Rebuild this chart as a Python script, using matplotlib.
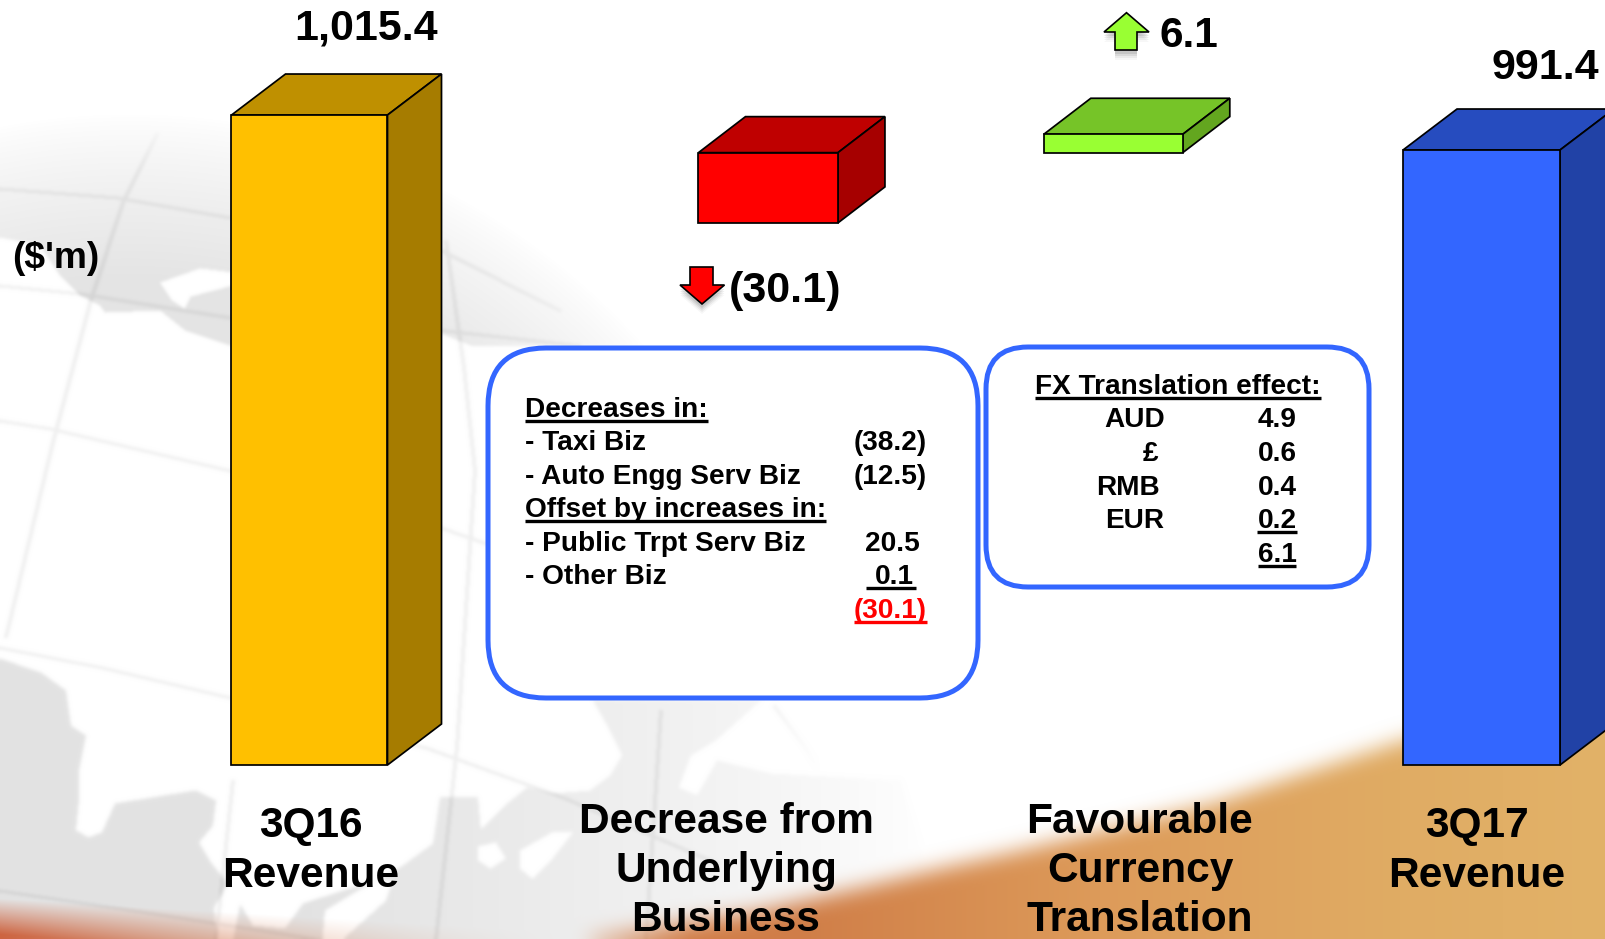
import numpy as np
import matplotlib
matplotlib.use("Agg")
import matplotlib.pyplot as plt
from matplotlib.patches import Polygon, FancyBboxPatch
from PIL import Image, ImageDraw, ImageFilter

plt.rcParams['font.family'] = ['Liberation Sans', 'DejaVu Sans']
W, H = 1606, 939

# ---------- data ----------
categories = ["3Q16\nRevenue", "Decrease from\nUnderlying\nBusiness",
              "Favourable\nCurrency\nTranslation", "3Q17\nRevenue"]
value_labels = ["1,015.4", "(30.1)", "6.1", "991.4"]
# block extents as drawn in the picture, in chart units on its broken axis
bar_bottoms = [569.6, 941.4, 989.6, 569.6]
bar_tops = [1015.4, 989.6, 1002.2, 991.4]
front_colors = ["#FFC000", "#FF0000", "#99FF33", "#3366FF"]
top_colors = ["#BF9000", "#BF0000", "#76C428", "#264CBF"]
side_colors = ["#A67C00", "#A60000", "#63A61F", "#2142A6"]

decrease_rows = ["- Taxi Biz", "- Auto Engg Serv Biz"]
decrease_vals = ["(38.2)", "(12.5)"]
increase_rows = ["- Public Trpt Serv Biz", "- Other Biz"]
increase_vals = ["20.5", "0.1"]
underlying_total = "(30.1)"
fx_rows = ["AUD", "£", "RMB", "EUR"]
fx_vals = ["4.9", "0.6", "0.4", "0.2"]
fx_total = "6.1"

# ---------- layout ----------
bar_centers = [309.5, 768.2, 1113.3, 1481.5]
bar_widths = [156, 139.5, 139, 157]
depth_x = [54, 47, 47, 54]
depth_y = [41, 36, 36, 41]
px_per_unit = 1.458
base_value, base_px = 569.6, 765


def mask(polys, holes=(), blur=2.0, lw=None):
    im = Image.new("L", (W, H), 0)
    d = ImageDraw.Draw(im)
    for p in polys:
        if lw:
            d.line(p, fill=255, width=lw)
        else:
            d.polygon(p, fill=255)
    for p in holes:
        d.polygon(p, fill=0)
    return np.asarray(im.filter(ImageFilter.GaussianBlur(blur)), float) / 255


def build_background():
    yy, xx = np.mgrid[0:H, 0:W].astype(float)
    r = np.hypot(xx - 130, yy - 800)
    R = 680.0
    inside = np.clip((R + 6 - r) / 165, 0, 1) ** 0.8

    north = mask(
        [[(-10, 60), (900, 60), (900, 345), (620, 345), (490, 345), (470, 345), (441, 333), (230, 345),
          (185, 330), (160, 310), (105, 312), (100, 305), (80, 295), (60, 275), (40, 245), (-10, 235)]],
        holes=[[(160, 282), (200, 268), (232, 272), (232, 285), (190, 296), (184, 308), (172, 300)],
               [(445, 335), (470, 345), (466, 378), (448, 372)]],
        blur=1.5)
    south = mask(
        [[(-10, 655), (40, 672), (65, 690), (70, 725), (85, 735), (78, 770), (78, 800), (75, 830), (88, 837),
          (102, 832), (115, 803), (195, 790), (215, 800), (212, 825), (198, 842), (210, 862), (227, 883),
          (213, 907), (217, 945), (-10, 945)],
         [(232, 945), (240, 905), (252, 925), (285, 928), (303, 903), (383, 877), (400, 867), (433, 843),
          (440, 797), (477, 797), (480, 830), (507, 803), (527, 787), (553, 793), (590, 790), (610, 775),
          (622, 755), (610, 730), (593, 700), (760, 700), (715, 740), (690, 755), (678, 787), (697, 795),
          (717, 760), (770, 773), (900, 780), (950, 945)]],
        holes=[[(478, 846), (495, 842), (505, 858), (490, 868), (478, 860)],
               [(520, 850), (552, 832), (572, 832), (550, 860), (532, 878), (520, 868)],
               [(325, 910), (375, 880), (392, 880), (385, 900), (335, 945), (322, 945)]],
        blur=1.8)
    fade = np.clip((930 - xx) / 620, 0, 1) ** 0.8
    dark = 0.105 * north * inside + 0.11 * south * fade

    grid = [
        [(157, 133), (123, 200), (90, 300), (50, 450), (5, 637)],
        [(445, 240), (463, 367), (474, 470), (456, 747), (435, 939)],
        [(232, 780), (215, 939)],
        [(660, 710), (645, 939)],
        [(773, 705), (803, 745), (890, 880)],
        [(0, 188), (117, 197), (230, 217), (441, 250), (560, 310)],
        [(0, 285), (80, 293), (230, 317), (445, 330), (580, 345)],
        [(0, 420), (50, 428), (230, 470), (440, 527), (486, 543)],
        [(0, 647), (102, 667), (230, 697), (425, 747), (563, 797), (717, 863)],
        [(0, 890), (154, 913), (320, 939)],
    ]
    lines = mask(grid, blur=1.6, lw=4)
    dark = dark + 0.06 * lines * np.clip((R + 10 - r) / 60, 0, 1)
    rgb = np.ones((H, W, 3)) * (1 - dark[..., None])

    swoosh = mask([[(500, 955), (620, 932), (753, 912), (870, 885), (940, 868), (1008, 853), (1213, 803),
                    (1403, 740), (1606, 690), (1606, 955)]], blur=10)
    stops_x = [0, 500, 800, 1100, 1400, 1606]
    stops = np.array([[205, 100, 65], [212, 125, 72], [208, 126, 72], [221, 155, 90], [224, 172, 100],
                      [226, 178, 104]], float) / 255
    col = np.stack([np.interp(xx, stops_x, stops[:, i]) for i in range(3)], axis=-1)
    a1 = (swoosh * np.clip((xx - 430) / 260, 0, 1))[..., None]
    left_top = 898 + xx * 0.06
    a2 = (np.clip((yy - left_top) / 36, 0, 1) * np.clip((560 - xx) / 560, 0, 1) ** 1.2)[..., None]
    rgb = rgb * (1 - a1) + col * a1
    rgb = rgb * (1 - a2) + col * a2
    return np.clip(rgb, 0, 1)


fig = plt.figure(figsize=(W / 100, H / 100), dpi=100)
pax = fig.add_axes([0, 0, 1, 1], zorder=0)
pax.imshow(build_background(), extent=(0, W, H, 0), aspect="auto", zorder=0, interpolation="bilinear")
pax.set_xlim(0, W)
pax.set_ylim(H, 0)
pax.axis("off")

ax = fig.add_axes([0, 0, 1, 1], zorder=1)
ax.set_xlim(0, W)
ax.set_ylim(base_value - (H - base_px) / px_per_unit, base_value + base_px / px_per_unit)
ax.axis("off")
ax.patch.set_alpha(0)

tax = fig.add_axes([0, 0, 1, 1], zorder=2)
tax.set_xlim(0, W)
tax.set_ylim(H, 0)
tax.axis("off")
tax.patch.set_alpha(0)

# ---------- blocks ----------
EDGE = 1.25
heights = np.array(bar_tops) - np.array(bar_bottoms)
ax.bar(bar_centers, heights, width=bar_widths, bottom=bar_bottoms, color=front_colors,
       edgecolor="black", linewidth=EDGE, zorder=3)
for i in range(4):
    x0 = bar_centers[i] - bar_widths[i] / 2
    x1 = bar_centers[i] + bar_widths[i] / 2
    dx, dy = depth_x[i], depth_y[i] / px_per_unit
    b, t = bar_bottoms[i], bar_tops[i]
    ax.add_patch(Polygon([(x0, t), (x1, t), (x1 + dx, t + dy), (x0 + dx, t + dy)], closed=True,
                         facecolor=top_colors[i], edgecolor="black", linewidth=EDGE, zorder=2))
    ax.add_patch(Polygon([(x1, b), (x1 + dx, b + dy), (x1 + dx, t + dy), (x1, t)], closed=True,
                         facecolor=side_colors[i], edgecolor="black", linewidth=EDGE, zorder=2))

# ---------- callout boxes ----------
def round_box(x0, y0, x1, y1, rad):
    tax.add_patch(FancyBboxPatch((x0 + rad, y0 + rad), x1 - x0 - 2 * rad, y1 - y0 - 2 * rad,
                                 boxstyle=f"round,pad={rad},rounding_size={rad}",
                                 facecolor="white", edgecolor="#3366FF", linewidth=3.6, zorder=2))

round_box(488, 348, 978, 698, 58)
round_box(986, 347, 1369, 587, 42)

# ---------- arrows ----------
def arrow(points, color):
    pts = np.array(points, float)
    for off, a in [(10, 0.03), (8, 0.05), (6, 0.07), (4, 0.09)]:
        tax.add_patch(Polygon(pts + [0, off], closed=True, facecolor="black", edgecolor="none",
                              alpha=a, zorder=3))
    tax.add_patch(Polygon(pts, closed=True, facecolor=color, edgecolor="black", linewidth=1.2, zorder=4))

arrow([(690, 267), (713, 267), (713, 285), (724.5, 285), (702, 304), (680, 285), (690, 285)], "#FF0000")
arrow([(1126.5, 12.7), (1149, 32), (1137, 32), (1137, 50), (1115, 50), (1115, 32), (1104, 32)], "#99FF33")

# ---------- text ----------
def txt(x, y, s, size, ha="left", color="black"):
    return tax.text(x, y, s, fontsize=size, fontweight="bold", ha=ha, va="baseline", color=color, zorder=6)

def utxt(x, y, s, size, ha="left", color="black", pad_left=0, pad_right=0):
    t = txt(x, y, s, size, ha, color)
    ext = t.get_window_extent(fig.canvas.get_renderer())
    tax.plot([ext.x0 - pad_left, ext.x1 + pad_right], [y + 4, y + 4], color=color, lw=2.4,
             solid_capstyle="butt", zorder=6)
    return t

CAT = 30.6
VAL = 31
label_x = [311, 726, 1140, 1477]
label_y0 = [837, 833, 833, 837]
label_step = [50, 49, 49, 50]
for i, c in enumerate(categories):
    for j, line in enumerate(c.split("\n")):
        txt(label_x[i], label_y0[i] + j * label_step[i], line, CAT, "center")

txt(366, 39, value_labels[0], VAL, "center")
txt(785, 302, value_labels[1], VAL, "center")
txt(1160, 47, value_labels[2], 30.6, "left")
txt(1545, 79, value_labels[3], VAL, "center")
txt(12, 268, "($'m)", 26.8)

TBL = 20.2
row_y = [417, 450, 484, 517, 551, 584, 618]
utxt(525, row_y[0], "Decreases in:", TBL)
for k in range(2):
    txt(525, row_y[1 + k], decrease_rows[k], TBL)
    txt(927, row_y[1 + k], decrease_vals[k], TBL, "right")
utxt(525, row_y[3], "Offset by increases in:", TBL)
txt(525, row_y[4], increase_rows[0], TBL)
txt(920, row_y[4], increase_vals[0], TBL, "right")
txt(525, row_y[5], increase_rows[1], TBL)
utxt(914, row_y[5], increase_vals[1], TBL, "right", pad_left=9, pad_right=2)
utxt(927, row_y[6], underlying_total, TBL, "right", color="#FF0000")

fx_y = [427, 461, 495, 528]
fx_right = [1165, 1158, 1160, 1164]
utxt(1035, 394, "FX Translation effect:", TBL)
for k in range(4):
    txt(fx_right[k], fx_y[k], fx_rows[k], TBL, "right")
    if k == 3:
        utxt(1277, fx_y[k], fx_vals[k], TBL, "center")
    else:
        txt(1277, fx_y[k], fx_vals[k], TBL, "center")
utxt(1277, 562, fx_total, TBL, "center")

fig.savefig("out.png", dpi=100)
